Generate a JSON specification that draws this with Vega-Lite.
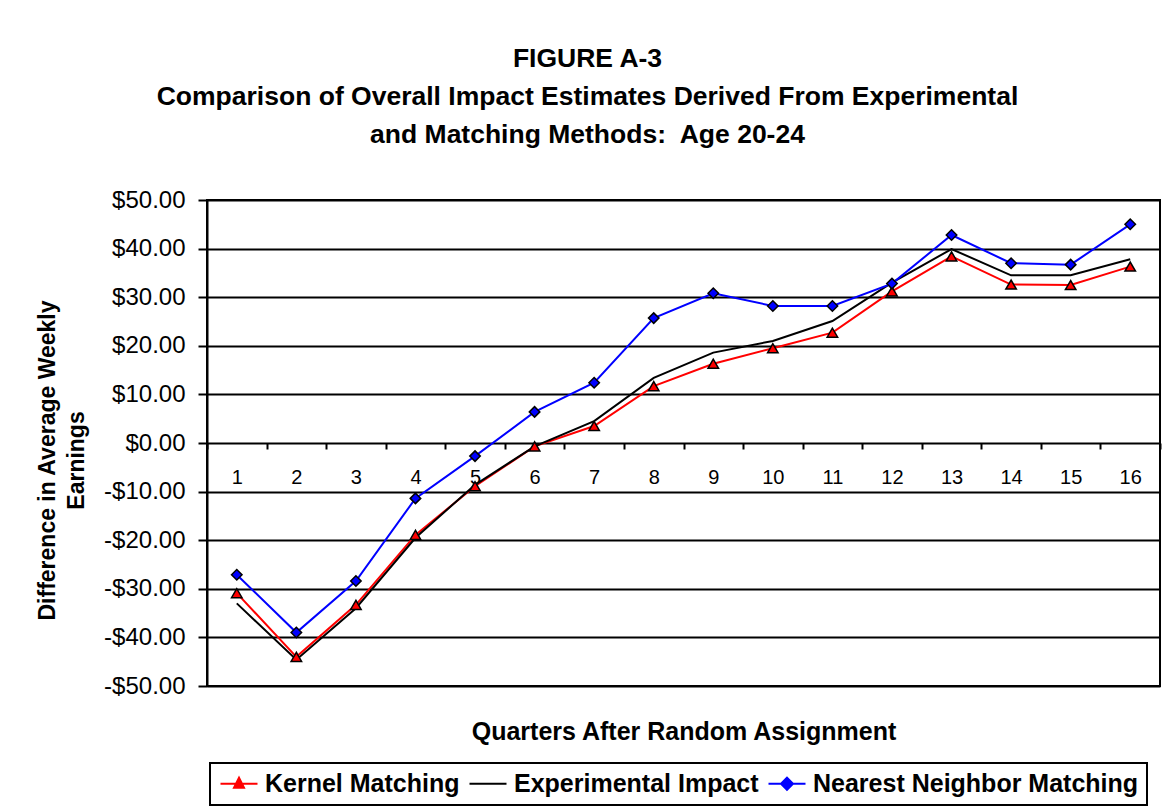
{
  "$schema": "https://vega.github.io/schema/vega-lite/v6.json",
  "width": 953,
  "height": 486,
  "autosize": {"type": "none"},
  "padding": {"left": 207, "top": 200, "right": 9, "bottom": 124},
  "background": "white",
  "title": {
    "text": ["FIGURE A-3", "Comparison of Overall Impact Estimates Derived From Experimental", "and Matching Methods:\u00a0 Age 20-24"],
    "font": "Liberation Sans",
    "fontSize": 26.5,
    "fontWeight": "bold",
    "lineHeight": 38,
    "anchor": "middle",
    "frame": "group",
    "dx": -96,
    "offset": 40,
    "color": "black"
  },
  "data": {
    "values": [
      {"q": 1, "series": "Kernel Matching", "v": -30.9},
      {"q": 2, "series": "Kernel Matching", "v": -44.0},
      {"q": 3, "series": "Kernel Matching", "v": -33.3},
      {"q": 4, "series": "Kernel Matching", "v": -18.9},
      {"q": 5, "series": "Kernel Matching", "v": -8.9},
      {"q": 6, "series": "Kernel Matching", "v": -0.7},
      {"q": 7, "series": "Kernel Matching", "v": 3.5},
      {"q": 8, "series": "Kernel Matching", "v": 11.7},
      {"q": 9, "series": "Kernel Matching", "v": 16.3},
      {"q": 10, "series": "Kernel Matching", "v": 19.5},
      {"q": 11, "series": "Kernel Matching", "v": 22.7},
      {"q": 12, "series": "Kernel Matching", "v": 31.2},
      {"q": 13, "series": "Kernel Matching", "v": 38.4},
      {"q": 14, "series": "Kernel Matching", "v": 32.6},
      {"q": 15, "series": "Kernel Matching", "v": 32.5},
      {"q": 16, "series": "Kernel Matching", "v": 36.3},
      {"q": 1, "series": "Experimental Impact", "v": -33.0},
      {"q": 2, "series": "Experimental Impact", "v": -44.6},
      {"q": 3, "series": "Experimental Impact", "v": -34.0},
      {"q": 4, "series": "Experimental Impact", "v": -19.5},
      {"q": 5, "series": "Experimental Impact", "v": -8.6},
      {"q": 6, "series": "Experimental Impact", "v": -0.7},
      {"q": 7, "series": "Experimental Impact", "v": 4.5},
      {"q": 8, "series": "Experimental Impact", "v": 13.4},
      {"q": 9, "series": "Experimental Impact", "v": 18.6},
      {"q": 10, "series": "Experimental Impact", "v": 21.0},
      {"q": 11, "series": "Experimental Impact", "v": 25.1},
      {"q": 12, "series": "Experimental Impact", "v": 33.0},
      {"q": 13, "series": "Experimental Impact", "v": 39.9},
      {"q": 14, "series": "Experimental Impact", "v": 34.5},
      {"q": 15, "series": "Experimental Impact", "v": 34.5},
      {"q": 16, "series": "Experimental Impact", "v": 37.8},
      {"q": 1, "series": "Nearest Neighbor Matching", "v": -27.1},
      {"q": 2, "series": "Nearest Neighbor Matching", "v": -39.0},
      {"q": 3, "series": "Nearest Neighbor Matching", "v": -28.4},
      {"q": 4, "series": "Nearest Neighbor Matching", "v": -11.4},
      {"q": 5, "series": "Nearest Neighbor Matching", "v": -2.7},
      {"q": 6, "series": "Nearest Neighbor Matching", "v": 6.4},
      {"q": 7, "series": "Nearest Neighbor Matching", "v": 12.4},
      {"q": 8, "series": "Nearest Neighbor Matching", "v": 25.7},
      {"q": 9, "series": "Nearest Neighbor Matching", "v": 30.8},
      {"q": 10, "series": "Nearest Neighbor Matching", "v": 28.2},
      {"q": 11, "series": "Nearest Neighbor Matching", "v": 28.2},
      {"q": 12, "series": "Nearest Neighbor Matching", "v": 32.8},
      {"q": 13, "series": "Nearest Neighbor Matching", "v": 42.8},
      {"q": 14, "series": "Nearest Neighbor Matching", "v": 37.0},
      {"q": 15, "series": "Nearest Neighbor Matching", "v": 36.7},
      {"q": 16, "series": "Nearest Neighbor Matching", "v": 45.0}
    ]
  },
  "encoding": {
    "x": {
      "field": "q",
      "type": "ordinal",
      "scale": {"paddingInner": 0, "paddingOuter": 0},
      "title": "Quarters After Random Assignment",
      "axis": {
        "orient": "bottom",
        "offset": -243,
        "labelAngle": 0,
        "domain": false,
        "grid": false,
        "tickBand": "extent",
        "ticks": true,
        "tickSize": 6,
        "tickWidth": 2,
        "tickColor": "black",
        "labelFont": "Liberation Sans",
        "labelFontSize": 20,
        "labelColor": "black",
        "labelPadding": 18,
        "titleFont": "Liberation Sans",
        "titleFontSize": 25,
        "titleFontWeight": "bold",
        "titleColor": "black",
        "titleBaseline": "alphabetic",
        "titleY": 296
      }
    },
    "y": {
      "field": "v",
      "type": "quantitative",
      "scale": {"domain": [-50, 50], "nice": false, "zero": false},
      "title": ["Difference in Average Weekly", "Earnings"],
      "axis": {
        "values": [-50, -40, -30, -20, -10, 0, 10, 20, 30, 40, 50],
        "labelExpr": "datum.value < 0 ? '-$' + format(-datum.value, '.2f') : '$' + format(datum.value, '.2f')",
        "domain": true,
        "domainColor": "black",
        "domainWidth": 2,
        "grid": true,
        "gridColor": "black",
        "gridWidth": 2,
        "gridOpacity": 1,
        "ticks": true,
        "tickSize": 9,
        "tickWidth": 2,
        "tickColor": "black",
        "labelFont": "Liberation Sans",
        "labelFontSize": 24,
        "labelColor": "black",
        "labelPadding": 13,
        "titleFont": "Liberation Sans",
        "titleFontSize": 23,
        "titleFontWeight": "bold",
        "titleColor": "black",
        "titleLineHeight": 29,
        "titleAngle": 270,
        "titleAlign": "center",
        "titleBaseline": "top",
        "titleX": -171,
        "titleY": 260
      }
    }
  },
  "layer": [
    {
      "mark": {"type": "line", "strokeWidth": 2},
      "encoding": {
        "color": {
          "field": "series",
          "type": "nominal",
          "scale": {
            "domain": ["Kernel Matching", "Experimental Impact", "Nearest Neighbor Matching"],
            "range": ["#ff0000", "#000000", "#0000ff"]
          },
          "legend": {
            "orient": "none",
            "legendX": 3,
            "legendY": 563,
            "direction": "horizontal",
            "columns": 3,
            "title": null,
            "padding": 8,
            "strokeColor": "black",
            "fillColor": "white",
            "symbolSize": 400,
            "symbolStrokeWidth": 2,
            "labelFont": "Liberation Sans",
            "labelFontSize": 25,
            "labelFontWeight": "bold",
            "labelColor": "black",
            "labelOffset": 22,
            "columnPadding": 5,
            "labelLimit": 500,
            "encode": {
              "legend": {"update": {"strokeWidth": {"value": 2}}},
              "symbols": {
                "update": {
                  "shape": {"signal": "datum.value === 'Kernel Matching' ? 'M-1,0L2.7,0M0.85,-0.6L1.35,0.4L0.35,0.4Z' : (datum.value === 'Nearest Neighbor Matching' ? 'M-1,0L2.7,0M0.85,-0.6L1.45,0L0.85,0.6L0.25,0Z' : 'M-1,0L2.7,0')"},
                  "fill": {"signal": "datum.value === 'Kernel Matching' ? '#ff0000' : (datum.value === 'Nearest Neighbor Matching' ? '#0000ff' : 'transparent')"},
                  "stroke": {"signal": "datum.value === 'Kernel Matching' ? '#ff0000' : (datum.value === 'Nearest Neighbor Matching' ? '#0000ff' : '#000000')"},
                  "strokeWidth": {"value": 2},
                  "opacity": {"value": 1}
                }
              }
            }
          }
        }
      }
    },
    {
      "transform": [{"filter": "datum.series !== 'Experimental Impact'"}],
      "mark": {"type": "point", "filled": true, "stroke": "black", "strokeWidth": 1.5, "opacity": 1, "size": 110},
      "encoding": {
        "color": {"field": "series", "type": "nominal"},
        "shape": {
          "field": "series",
          "type": "nominal",
          "scale": {"domain": ["Kernel Matching", "Nearest Neighbor Matching"], "range": ["triangle-up", "diamond"]},
          "legend": null
        }
      }
    }
  ],
  "config": {
    "font": "Liberation Sans",
    "view": {"stroke": "black", "strokeWidth": 2}
  }
}
